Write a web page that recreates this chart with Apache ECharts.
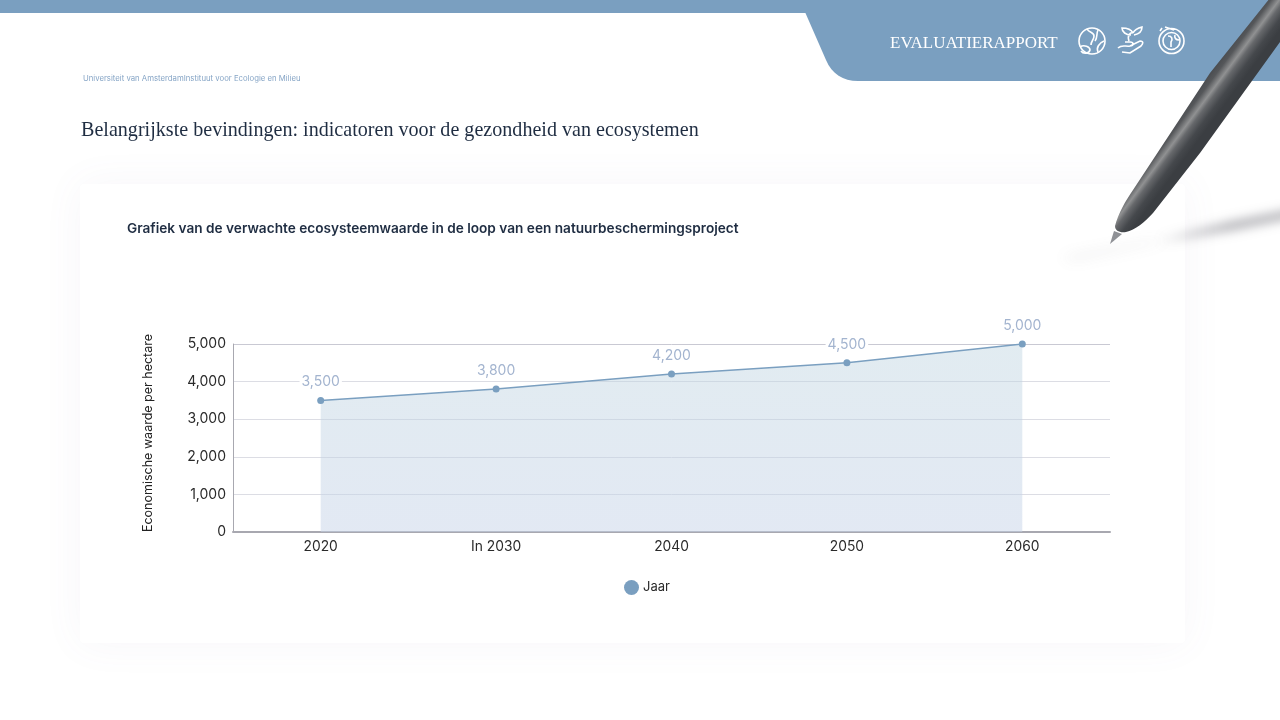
<!DOCTYPE html>
<html>
<head>
<meta charset="utf-8">
<title>Evaluatierapport</title>
<style>
	html, body { margin: 0; padding: 0; background: #fff; }
	#chart { width: 1280px; height: 720px; }
</style>
<script src="https://cdn.jsdelivr.net/npm/echarts@6/dist/echarts.min.js"></script>
</head>
<body>
<div id="chart"></div>
<script>
'use strict';

var categories = ['2020', 'In 2030', '2040', '2050', '2060'];
var values = [3500, 3800, 4200, 4500, 5000];
var seriesName = 'Jaar';
var yAxisName = 'Economische waarde per hectare';
var yTicks = { min: 0, max: 5000, interval: 1000 };

var reportLabel = 'EVALUATIERAPPORT';
var sourceText = 'Universiteit van AmsterdamInstituut voor Ecologie en Milieu';
var pageTitle = 'Belangrijkste bevindingen: indicatoren voor de gezondheid van ecosystemen';
var chartTitle = 'Grafiek van de verwachte ecosysteemwaarde in de loop van een natuurbeschermingsproject';

var blue = '#7a9fc0';
var sans = 'Inter, sans-serif';
var serif = '"Liberation Serif", serif';

//graphic组件没有path类型,按路径注册形状
var shapeCount = 0;
function pathEl(pathData, z, style) {
	var name = 'pagePath' + (shapeCount++);
	echarts.graphic.registerShape(name, echarts.graphic.extendPath(pathData, {}));
	return { type: name, z: z, style: style };
}

//白色线条图标
function icon(pathData) {
	return pathEl(pathData, 6, { fill: 'none', stroke: '#fff', lineWidth: 1.6 });
}

//只画模糊阴影:图形本身放在画布外
function softShadow(points, blur, color) {
	return {
		type: 'polygon', z: 7,
		shape: {
			points: points.map(function (p) {
				return [p[0], p[1] - 1000];
			})
		},
		style: { fill: '#000', shadowBlur: blur, shadowColor: color, shadowOffsetY: 1000 },
		silent: true
	};
}

function createGraphics() {
	return [
		/*------------------页面背景---------------------*/
		{
			type: 'rect', z: 0,
			shape: { x: 80, y: 184, width: 1105, height: 459, r: 4 },
			style: { fill: '#fff', shadowBlur: 40, shadowColor: 'rgba(120,110,160,0.06)' }
		},
		{
			type: 'rect', z: 1,
			shape: { x: 0, y: 0, width: 1280, height: 13 },
			style: { fill: blue }
		},
		pathEl('M805 12 L1280 12 L1280 81 L858 81 C843 81 832 74 826 60 Z', 1, { fill: blue }),

		/*------------------文字---------------------*/
		{
			type: 'text', z: 5, x: 890, y: 43.5,
			style: { text: reportLabel, fill: '#fff', font: '17px ' + serif, verticalAlign: 'middle' }
		},
		{
			type: 'text', z: 5, x: 83, y: 79,
			style: { text: sourceText, fill: '#86a5c6', font: '7.75px ' + sans, verticalAlign: 'middle' }
		},
		{
			type: 'text', z: 5, x: 81, y: 130.5,
			style: { text: pageTitle, fill: '#1f2d42', font: '20.1px ' + serif, verticalAlign: 'middle' }
		},
		{
			type: 'text', z: 5, x: 127, y: 229,
			style: { text: chartTitle, fill: '#1f2d42', font: '600 13.65px ' + sans, verticalAlign: 'middle' }
		},

		/*------------------图标---------------------*/
		icon('M1079 41 A13 13 0 1 1 1105 41 A13 13 0 1 1 1079 41 Z'),
		icon('M1087 29 C1089 33 1094 32 1094 36 C1094 40 1091 41 1091 45 M1098 30 C1096 34 1098 37 1095 41 M1080 47 C1084 44 1090 47 1090 50 C1089 54 1083 54 1081 51 M1098 52 C1096 48 1099 43 1104 41'),
		icon('M1118 48 C1122 44 1126 47 1130 46 C1134 46 1134 42 1130 42 L1125 42 M1130 46 L1140 41 C1144 41 1143 44 1141 46 L1130 53 L1122 52 M1129 41 C1127 36 1130 32 1133 33 M1133 33 C1131 29 1126 28 1122 28 C1122 32 1126 35 1131 35 M1133 33 C1135 29 1138 28 1142 27 C1142 31 1139 34 1134 35'),
		icon('M1159 41 A12.5 12.5 0 1 0 1184 41 A12.5 12.5 0 1 0 1159 41 Z M1163 41 A8.5 8.5 0 1 0 1180 41 A8.5 8.5 0 1 0 1163 41 Z M1160 31 L1162 28 M1165 27 L1174 30 M1168 36 C1172 36 1173 39 1171 42 L1171 47 M1175 35 C1174 38 1176 40 1179 40'),

		/*------------------笔和阴影---------------------*/
		softShadow([[1060, 258], [1150, 241], [1170, 240], [1075, 260]], 14, 'rgba(110,110,120,0.14)'),
		softShadow([[1160, 241], [1230, 222], [1300, 208], [1300, 216], [1232, 230]], 11, 'rgba(85,85,95,0.5)'),
		{
			type: 'polygon', z: 8,
			shape: { points: [[1110, 244], [1114, 231], [1122, 234]] },
			style: { fill: '#8f9196' }
		},
		pathEl('M1115 226 C1118 214 1126 200 1133 190 L1210 73 L1270 -2 L1290 -2 L1290 28 L1200 153 L1153 213 C1145 222 1135 230 1126 232 C1120 233 1115 231 1115 226 Z', 9, {
			fill: {
				type: 'linear', global: true, x: 1170, y: 122, x2: 1197, y2: 142,
				colorStops: [
					{ offset: 0, color: '#44474b' },
					{ offset: 0.25, color: '#55575a' },
					{ offset: 0.45, color: '#909192' },
					{ offset: 0.58, color: '#66686b' },
					{ offset: 0.8, color: '#45484c' },
					{ offset: 1, color: '#3b3e42' }
				]
			}
		})
	];
}

var lineChart = echarts.init(document.getElementById('chart'), null, { renderer: 'canvas' });

lineChart.setOption({
	animation: false,
	backgroundColor: '#fff',
	textStyle: { fontFamily: sans },
	graphic: { elements: createGraphics() },
	legend: {
		left: 619,
		top: 575,
		icon: 'circle',
		itemWidth: 15,
		itemHeight: 15,
		itemGap: 0,
		textStyle: { color: '#2a2a2a', fontSize: 13, fontFamily: sans, padding: [0, 0, 8, -1] },
		data: [seriesName]
	},
	grid: {
		left: 233,
		right: 170,
		top: 344,
		bottom: 188,
		containLabel: false
	},
	xAxis: {
		type: 'category',
		boundaryGap: true,
		data: categories,
		axisTick: { show: false },
		axisLine: { lineStyle: { color: '#a8a8b0', width: 2 } },
		axisLabel: { color: '#2a2a2a', fontSize: 13.8, fontFamily: sans, margin: 8 }
	},
	yAxis: {
		type: 'value',
		min: yTicks.min,
		max: yTicks.max,
		interval: yTicks.interval,
		name: yAxisName,
		nameLocation: 'middle',
		nameGap: 78,
		nameTextStyle: { color: '#222', fontSize: 12.5, fontFamily: sans, padding: [0, 0, 0, 10] },
		axisTick: { show: false },
		axisLine: { show: true, lineStyle: { color: '#a8a8b0', width: 1 } },
		axisLabel: {
			color: '#2a2a2a',
			fontSize: 14,
			fontFamily: sans,
			margin: 7,
			padding: [0, 0, 3, 0],
			formatter: function (value) {
				return value.toLocaleString('en-US');
			}
		},
		splitLine: {
			show: true,
			lineStyle: {
				color: ['#a8a8b0', '#dcdde4', '#dcdde4', '#dcdde4', '#dcdde4', '#c9c9d3'],
				width: 1
			}
		}
	},
	series: [{
		name: seriesName,
		type: 'line',
		data: values,
		z: 3,
		symbol: 'circle',
		symbolSize: 7,
		color: blue,
		lineStyle: { color: blue, width: 1.5 },
		itemStyle: { color: blue },
		areaStyle: {
			color: {
				type: 'linear', x: 0, y: 0, x2: 0, y2: 1,
				colorStops: [
					{ offset: 0, color: 'rgba(190,212,224,0.45)' },
					{ offset: 1, color: 'rgba(198,211,232,0.5)' }
				]
			},
			opacity: 1
		},
		label: {
			show: true,
			position: 'top',
			distance: 8,
			color: '#a3b4cf',
			fontSize: 14,
			fontFamily: sans,
			backgroundColor: '#fff',
			padding: [0, 2],
			formatter: function (p) {
				return p.value.toLocaleString('en-US');
			}
		}
	}]
});
</script>
</body>
</html>
